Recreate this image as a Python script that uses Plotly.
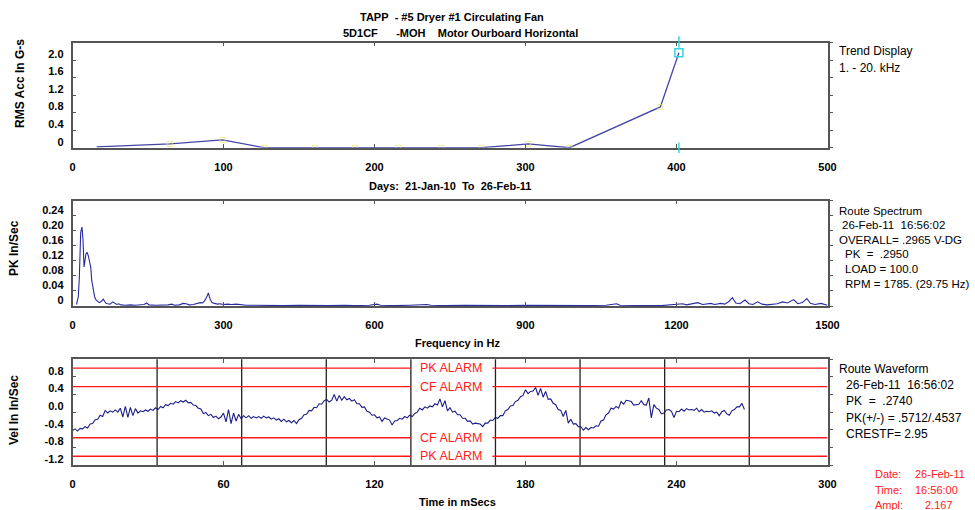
import plotly.graph_objects as go

W, H = 975, 510


def px(x):
    return x / W


def py(y):
    return 1 - y / H


# ---------------- DATA ----------------
# Trend (top panel)
trend_days = [16, 64.5, 99.4, 127, 160.5, 187, 215.6, 244.3, 270.8, 301.7, 329.2, 389.3, 401.6]
trend_vals = [0.02, 0.085, 0.177, 0.0, 0.0, 0.0, 0.0, 0.0, 0.0, 0.085, 0.0, 0.93, 2.167]
trend_x_ticks = [0, 100, 200, 300, 400, 500]
trend_y_ticks = [0, 0.4, 0.8, 1.2, 1.6, 2.0, 2.4]
trend_y_labels = ["0", "0.4", "0.8", "1.2", "1.6", "2.0", ""]

# Spectrum (middle panel)
spec_freq = [8, 9.6, 11.5, 13.5, 15.0, 16.3, 18.9, 20.9, 22.9, 24.2, 26.8, 28.8, 31.4, 33.4,
             36.2, 38.2, 41.4, 44.0, 46.7, 50.0, 53.3, 57.0, 61.3, 64.0, 66.6, 70.0, 74.6,
             80.0, 84.0, 88.0, 92.0, 96.0, 105, 115, 125, 135, 142, 147.6, 152, 165, 180,
             190, 197, 203, 212, 220, 226, 232, 240, 247, 253.6, 258, 262, 266, 270, 273,
             277, 282, 288, 293, 300, 308, 316, 325, 333, 345, 360, 380, 400, 420, 450,
             480, 510, 540, 560, 590, 605, 612, 640, 670, 700, 704, 712, 740, 780, 820,
             860, 900, 940, 980, 1020, 1060, 1075, 1081, 1088, 1110, 1129, 1150, 1170,
             1189, 1200, 1212, 1220, 1230, 1242, 1252, 1260, 1268, 1276, 1288, 1296,
             1304, 1311, 1318, 1326, 1336, 1344, 1352, 1361, 1370, 1380, 1390, 1400,
             1411, 1420, 1433, 1441, 1450, 1459, 1466, 1475, 1487, 1495, 1500]
spec_amp = [0.004, 0.016, 0.024, 0.073, 0.14, 0.196, 0.21, 0.174, 0.104, 0.117, 0.139, 0.143,
            0.134, 0.121, 0.104, 0.068, 0.038, 0.024, 0.016, 0.011, 0.009, 0.012, 0.018,
            0.012, 0.007, 0.006, 0.005, 0.011, 0.008, 0.004, 0.006, 0.003, 0.002, 0.003,
            0.002, 0.002, 0.004, 0.008, 0.003, 0.002, 0.002, 0.003, 0.005, 0.002, 0.003,
            0.007, 0.006, 0.003, 0.004, 0.006, 0.009, 0.008, 0.013, 0.022, 0.035, 0.020,
            0.009, 0.007, 0.005, 0.006, 0.004, 0.005, 0.004, 0.005, 0.003, 0.002, 0.002,
            0.001, 0.001, 0.001, 0.002, 0.001, 0.001, 0.002, 0.001, 0.002, 0.005, 0.002,
            0.001, 0.002, 0.003, 0.004, 0.002, 0.001, 0.002, 0.001, 0.001, 0.002, 0.001,
            0.001, 0.001, 0.002, 0.004, 0.006, 0.002, 0.001, 0.002, 0.001, 0.001, 0.003,
            0.003, 0.006, 0.003, 0.005, 0.009, 0.004, 0.005, 0.007, 0.004, 0.007, 0.005,
            0.012, 0.022, 0.008, 0.006, 0.016, 0.006, 0.004, 0.011, 0.005, 0.003, 0.004,
            0.006, 0.011, 0.008, 0.017, 0.006, 0.009, 0.020, 0.007, 0.004, 0.007, 0.003,
            0.002]
spec_x_ticks = [0, 300, 600, 900, 1200, 1500]
spec_y_ticks = [0, 0.04, 0.08, 0.12, 0.16, 0.20, 0.24, 0.28]
spec_y_labels = ["0", "0.04", "0.08", "0.12", "0.16", "0.20", "0.24", ""]

# Waveform (bottom panel), one sample per ms
wave_vel = [
    -0.42, -0.38, -0.43, -0.37, -0.38, -0.33, -0.36, -0.27, -0.26, -0.17,
    -0.16, -0.07, -0.10, 0.04, -0.02, 0.03, 0.00, 0.05, 0.00, 0.09,
    -0.11, 0.13, -0.12, 0.11, -0.08, 0.08, -0.02, 0.03, 0.01, 0.05,
    0.02, 0.07, 0.04, 0.10, 0.06, 0.13, 0.10, 0.17, 0.15, 0.20,
    0.18, 0.24, 0.21, 0.26, 0.23, 0.27, 0.21, 0.22, 0.16, 0.15,
    0.09, 0.07, -0.03, -0.01, -0.08, -0.05, -0.12, -0.09, -0.15, -0.11,
    -0.02, -0.22, 0.06, -0.26, -0.02, -0.20, -0.05, -0.15, -0.08, -0.13,
    -0.08, -0.14, -0.10, -0.13, -0.10, -0.14, -0.09, -0.13, -0.11, -0.16,
    -0.13, -0.18, -0.15, -0.21, -0.16, -0.22, -0.19, -0.24, -0.19, -0.26,
    -0.17, -0.14, -0.06, -0.05, 0.04, 0.03, 0.11, 0.10, 0.19, 0.18,
    0.26, 0.29, 0.23, 0.27, 0.40, 0.25, 0.38, 0.27, 0.35, 0.28,
    0.31, 0.25, 0.28, 0.19, 0.19, 0.11, 0.12, 0.02, 0.00, -0.07,
    -0.06, -0.13, -0.11, -0.21, -0.13, -0.16, -0.18, -0.29, -0.20, -0.19,
    -0.14, -0.16, -0.10, -0.13, -0.07, -0.10, -0.03, 0.00, 0.09, 0.05,
    0.12, 0.09, 0.14, 0.12, 0.19, 0.16, 0.30, 0.12, 0.26, 0.03,
    0.10, 0.00, 0.02, -0.06, -0.06, -0.14, -0.14, -0.21, -0.20, -0.27,
    -0.25, -0.26, -0.27, -0.33, -0.25, -0.25, -0.18, -0.19, -0.12, -0.14,
    -0.08, -0.08, 0.03, 0.06, 0.14, 0.15, 0.24, 0.27, 0.35, 0.38,
    0.51, 0.42, 0.47, 0.48, 0.56, 0.38, 0.54, 0.34, 0.47, 0.29,
    0.30, 0.20, 0.17, 0.06, 0.04, -0.10, 0.04, -0.25, -0.16, -0.27,
    -0.26, -0.33, -0.33, -0.41, -0.35, -0.40, -0.35, -0.36, -0.31, -0.32,
    -0.20, -0.18, -0.06, -0.02, 0.09, 0.07, 0.13, 0.09, 0.24, 0.18,
    0.27, 0.26, 0.24, 0.16, 0.17, 0.18, 0.26, 0.17, 0.16, 0.32,
    -0.13, 0.17, 0.09, 0.06, -0.04, -0.02, 0.05, 0.06, 0.02, -0.12,
    0.02, 0.01, 0.07, 0.02, 0.08, 0.05, 0.06, 0.04, 0.09, 0.01,
    0.06, 0.00, 0.02, 0.01, 0.03, -0.02, 0.00, -0.08, 0.01, 0.04,
    -0.04, -0.07, 0.03, 0.06, 0.12, 0.12, 0.20, 0.06,
]
wave_dt_ms = 1.0
wave_ms = [i * wave_dt_ms for i in range(len(wave_vel))]
wave_x_ticks = [0, 60, 120, 180, 240, 300]
wave_y_ticks = [-1.2, -0.8, -0.4, 0.0, 0.4, 0.8, 1.2]
wave_y_labels = ["-1.2", "-0.8", "-0.4", "0.0", "0.4", "0.8", ""]
pk_alarm = 1.0
cf_alarm = 0.58
run_speed_hz = 29.75

# ---------------- STYLE ----------------
FONT = "Liberation Sans, Arial, sans-serif"
AXC = "#555555"
x_dom = [px(72.5), px(827.5)]
y_doms = [[py(147.7), py(42.5)], [py(306), py(200.7)], [py(465), py(359.3)]]

fig = go.Figure()

# Trend
marker_sizes = [0] + [5] * (len(trend_days) - 2) + [0]
fig.add_trace(go.Scatter(x=trend_days, y=trend_vals, mode="lines+markers",
                         line=dict(color="#4646a6", width=1.3),
                         marker=dict(symbol="square-open", size=marker_sizes,
                                     color="#e6e66a", line=dict(width=1, color="#e6e66a")),
                         xaxis="x", yaxis="y", hoverinfo="skip", showlegend=False))
fig.add_trace(go.Scatter(x=trend_days[-1:], y=trend_vals[-1:], mode="markers",
                         marker=dict(symbol="square-open", size=8, color="#33d6e0",
                                     line=dict(width=1.5, color="#33d6e0")),
                         xaxis="x", yaxis="y", hoverinfo="skip", showlegend=False))
# Spectrum
fig.add_trace(go.Scatter(x=spec_freq, y=spec_amp, mode="lines",
                         line=dict(color="#2a2aa0", width=1.1),
                         xaxis="x2", yaxis="y2", hoverinfo="skip", showlegend=False))
# Waveform
fig.add_trace(go.Scatter(x=wave_ms, y=wave_vel, mode="lines",
                         line=dict(color="#1c1c88", width=1.1),
                         xaxis="x3", yaxis="y3", hoverinfo="skip", showlegend=False))
# Dummy traces so the right-hand tick axes are drawn
for xa, ya in [("x", "y4"), ("x2", "y5"), ("x3", "y6")]:
    fig.add_trace(go.Scatter(x=[None], y=[None], xaxis=xa, yaxis=ya,
                             hoverinfo="skip", showlegend=False))

tickfont = dict(family=FONT, size=11, color="black", weight=700)


def xax(domain, rng, ticks, anchor):
    return dict(domain=domain, range=rng, tickvals=ticks, ticks="inside", ticklen=4,
                tickcolor=AXC, showline=True, linecolor=AXC, linewidth=1.5,
                mirror="ticks", showgrid=False, zeroline=False, anchor=anchor,
                tickfont=tickfont, ticklabelstandoff=8, fixedrange=True, automargin=False)


def yax(domain, rng, ticks, labels, anchor):
    return dict(domain=domain, range=rng, tickvals=ticks, ticktext=labels, ticks="inside",
                ticklen=4, tickcolor=AXC, showline=True, linecolor=AXC, linewidth=1.5,
                mirror=True, showgrid=False, zeroline=False, anchor=anchor,
                tickfont=tickfont, ticklabelshift=-6, ticklabelstandoff=5, fixedrange=True,
                automargin=False)


def yright(rng, ticks, over):
    return dict(range=rng, tickvals=ticks, overlaying=over, side="right", ticks="outside",
                ticklen=4, tickcolor=AXC, showticklabels=False, showline=False,
                showgrid=False, zeroline=False, anchor=over.replace("y", "x"),
                fixedrange=True, automargin=False)


layout = dict(
    width=W, height=H, margin=dict(l=0, r=0, t=0, b=0, autoexpand=False),
    paper_bgcolor="white", plot_bgcolor="white",
    xaxis=xax(x_dom, [0, 500], trend_x_ticks, "y"),
    yaxis=yax(y_doms[0], [0, 2.4], trend_y_ticks, trend_y_labels, "x"),
    xaxis2=xax(x_dom, [0, 1500], spec_x_ticks, "y2"),
    yaxis2=yax(y_doms[1], [0, 0.28], spec_y_ticks, spec_y_labels, "x2"),
    xaxis3=xax(x_dom, [0, 300], wave_x_ticks, "y3"),
    yaxis3=yax(y_doms[2], [-1.2, 1.2], wave_y_ticks, wave_y_labels, "x3"),
    yaxis4=yright([0, 2.4], trend_y_ticks, "y"),
    yaxis5=yright([0, 0.28], spec_y_ticks, "y2"),
    yaxis6=yright([-1.2, 1.2], wave_y_ticks, "y3"),
)
fig.update_layout(**layout)

shapes = []
# cursor marks on trend
for y0, y1 in [(-0.05, 0.05), (0.95, 1.06)]:
    shapes.append(dict(type="line", xref="x", yref="y domain", x0=trend_days[-1],
                       x1=trend_days[-1], y0=y0, y1=y1,
                       line=dict(color="#33d6e0", width=1.5)))
# run-speed period markers on waveform
period_ms = 1000.0 / run_speed_hz
k = 1
while k * period_ms < 300:
    shapes.append(dict(type="line", xref="x3", yref="y3 domain", x0=k * period_ms,
                       x1=k * period_ms, y0=0, y1=1, line=dict(color="#222222", width=1.3)))
    k += 1
# alarm lines, broken where the label sits (between the 4th and 5th period marks)
gap_lo, gap_hi = 4 * period_ms, 5 * period_ms - 1.2
for lvl in [pk_alarm, cf_alarm, -cf_alarm, -pk_alarm]:
    for xa, xb in [(0, gap_lo), (gap_hi, 300)]:
        shapes.append(dict(type="line", xref="x3", yref="y3", x0=xa, x1=xb, y0=lvl, y1=lvl,
                           line=dict(color="#ff1a1a", width=1.4)))
fig.update_layout(shapes=shapes)

ann = []


def text(x, y, s, size=11, bold=False, color="black", xanchor="left", **kw):
    ann.append(dict(x=px(x), y=py(y), xref="paper", yref="paper", text=s, showarrow=False,
                    xanchor=xanchor, yanchor="middle",
                    font=dict(family=FONT, size=size, color=color,
                              weight=700 if bold else 400), **kw))


NB = "\u00a0"
# Titles
text(452, 17, f"TAPP{NB}{NB}- #5 Dryer #1 Circulating Fan", 11, True, xanchor="center")
text(460, 33, f"5D1CF{NB}{NB}{NB}{NB}{NB}{NB}-MOH{NB}{NB}{NB}{NB}Motor Ourboard Horizontal", 11, True,
     xanchor="center")
text(450, 186, f"Days:{NB}{NB}21-Jan-10{NB}{NB}To{NB}{NB}26-Feb-11", 11, True, xanchor="center")
text(457, 343, "Frequency in Hz", 11, True, xanchor="center")
text(457, 502, "Time in mSecs", 11, True, xanchor="center")

# Y titles
for xx, yy, s in [(20, 84, "RMS Acc In G-s"), (14, 248, "PK In/Sec"), (14, 410, "Vel In In/Sec")]:
    ann.append(dict(x=px(xx), y=py(yy), xref="paper", yref="paper", text=s, showarrow=False,
                    textangle=-90, xanchor="center", yanchor="middle",
                    font=dict(family=FONT, size=12, color="black", weight=700)))

# Right info blocks
text(837, 51, "Trend Display", 12)
text(837, 68.5, "1. - 20. kHz", 12)
text(837, 211, "Route Spectrum", 11.5)
text(840, 225, f"26-Feb-11{NB}{NB}16:56:02", 11.5)
text(837, 239.5, "OVERALL= .2965 V-DG", 11.5)
text(843, 254, f"PK{NB}{NB}={NB}{NB}.2950", 11.5)
text(843, 268.5, "LOAD = 100.0", 11.5)
text(843, 284, "RPM = 1785. (29.75 Hz)", 11.5)
text(837, 368.5, "Route Waveform", 12)
text(844, 385, f"26-Feb-11{NB}{NB}16:56:02", 12)
text(844, 401, f"PK{NB}{NB}={NB}{NB}.2740", 12)
text(844, 417.5, "PK(+/-) = .5712/.4537", 12)
text(844, 433.5, "CRESTF= 2.95", 12)

# Red cursor info
RED = "#ff2020"
text(873, 473.5, "Date:", 11, color=RED)
text(913, 473.5, "26-Feb-11", 11, color=RED)
text(873, 490, "Time:", 11, color=RED)
text(913, 490, "16:56:00", 11, color=RED)
text(873, 505, "Ampl:", 11, color=RED)
text(923, 505, "2.167", 11, color=RED)

# Alarm labels
for lvl, lab in [(pk_alarm, "PK ALARM"), (cf_alarm, "CF ALARM"), (-cf_alarm, "CF ALARM"),
                 (-pk_alarm, "PK ALARM")]:
    ann.append(dict(x=(gap_lo + gap_hi) / 2, y=lvl, xref="x3", yref="y3", text=lab,
                    showarrow=False, xanchor="center", yanchor="middle",
                    font=dict(family=FONT, size=12.5, color=RED)))

fig.update_layout(annotations=ann)
fig.write_html("out.html", config={"displayModeBar": False},
               post_script="document.body.style.margin='0px';document.body.style.padding='0px';")
